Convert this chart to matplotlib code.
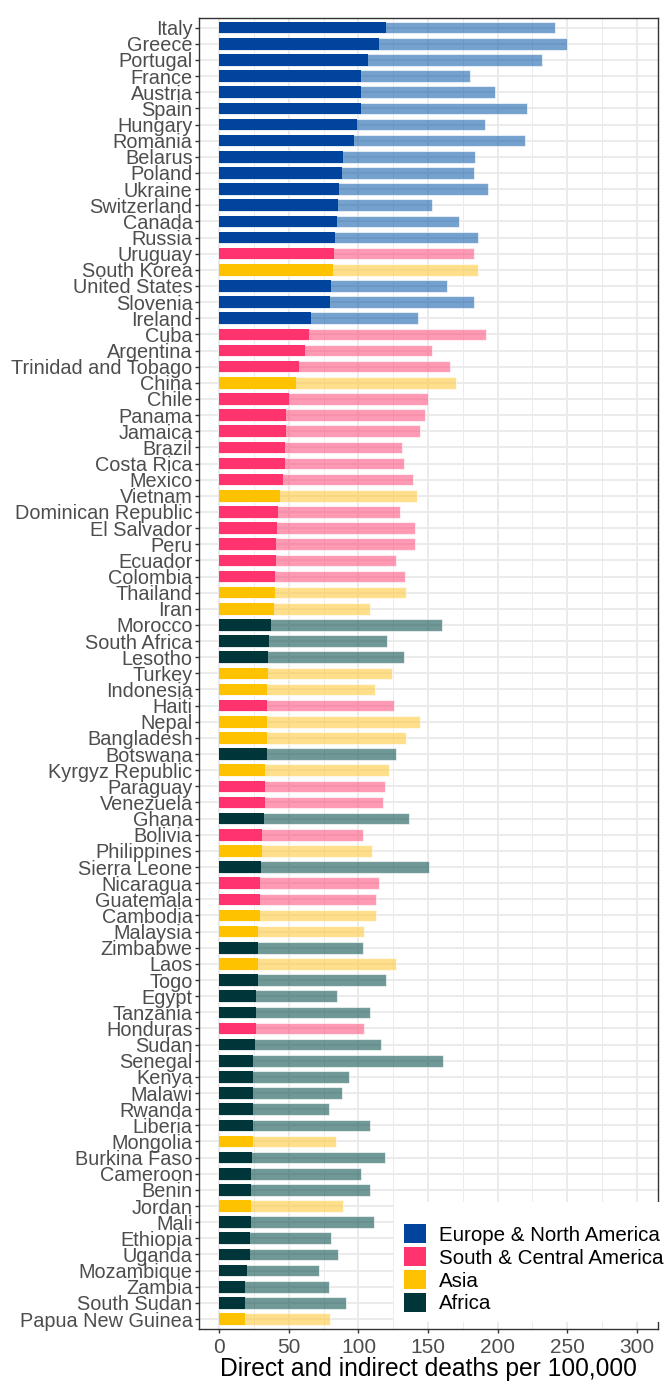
import matplotlib
matplotlib.use("Agg")
import matplotlib.pyplot as plt
from matplotlib.patches import Patch, Rectangle
from matplotlib.ticker import MultipleLocator
import numpy as np

plt.rcParams['font.family'] = ['Liberation Sans', 'DejaVu Sans']

countries = [
    "Italy", "Greece", "Portugal", "France", "Austria", "Spain", "Hungary", "Romania",
    "Belarus", "Poland", "Ukraine", "Switzerland", "Canada", "Russia", "Uruguay",
    "South Korea", "United States", "Slovenia", "Ireland", "Cuba", "Argentina",
    "Trinidad and Tobago", "China", "Chile", "Panama", "Jamaica", "Brazil", "Costa Rica",
    "Mexico", "Vietnam", "Dominican Republic", "El Salvador", "Peru", "Ecuador",
    "Colombia", "Thailand", "Iran", "Morocco", "South Africa", "Lesotho", "Turkey",
    "Indonesia", "Haiti", "Nepal", "Bangladesh", "Botswana", "Kyrgyz Republic",
    "Paraguay", "Venezuela", "Ghana", "Bolivia", "Philippines", "Sierra Leone",
    "Nicaragua", "Guatemala", "Cambodia", "Malaysia", "Zimbabwe", "Laos", "Togo",
    "Egypt", "Tanzania", "Honduras", "Sudan", "Senegal", "Kenya", "Malawi", "Rwanda",
    "Liberia", "Mongolia", "Burkina Faso", "Cameroon", "Benin", "Jordan", "Mali",
    "Ethiopia", "Uganda", "Mozambique", "Zambia", "South Sudan", "Papua New Guinea",
]

EU, SA, AS, AF = "Europe & North America", "South & Central America", "Asia", "Africa"
regions = [
    EU, EU, EU, EU, EU, EU, EU, EU,
    EU, EU, EU, EU, EU, EU, SA,
    AS, EU, EU, EU, SA, SA,
    SA, AS, SA, SA, SA, SA, SA,
    SA, AS, SA, SA, SA, SA,
    SA, AS, AS, AF, AF, AF, AS,
    AS, SA, AS, AS, AF, AS,
    SA, SA, AF, SA, AS, AF,
    SA, SA, AS, AS, AF, AS, AF,
    AF, AF, SA, AF, AF, AF, AF, AF,
    AF, AS, AF, AF, AF, AS, AF,
    AF, AF, AF, AF, AF, AS,
]

direct_deaths = [
    120, 115, 107, 102, 102, 102, 99, 97,
    89, 88, 86, 85, 84.5, 83, 82.5,
    81.5, 80, 79.5, 66, 64.5, 61.5,
    57.5, 55, 50, 48, 48, 47, 47,
    46, 43.5, 42.5, 41.5, 41, 41,
    40, 40, 39, 37, 36, 35, 35,
    34.5, 34.5, 34.5, 34, 34, 33,
    33, 32.5, 32, 31, 30.5, 30,
    29.5, 29, 29, 28, 28, 27.5, 27.5,
    26.5, 26.5, 26.5, 25.5, 24.5, 24.5, 24.5, 24,
    24, 24, 23.5, 23, 23, 23, 23,
    22, 22, 20, 18.5, 18.5, 18.5,
]

total_deaths = [
    241, 250, 232, 180, 198, 221, 191, 220,
    184, 183, 193, 153, 172, 186, 183,
    186, 164, 183, 143, 192, 153,
    166, 170, 150, 148, 144, 131.5, 133,
    139, 142, 130, 140.5, 140.5, 127,
    133.5, 134.5, 108, 160, 120.5, 133, 124,
    112, 125.5, 144, 134.5, 127, 122,
    119, 118, 136.5, 103.5, 110, 151,
    115, 112.5, 112.5, 104, 103.5, 127, 120,
    84.5, 108.5, 104, 116, 161, 93, 88.5, 78.5,
    108.5, 83.5, 119, 102, 108.5, 89, 111,
    80.5, 85.5, 71.5, 78.5, 91, 79.5,
]

region_order = [EU, SA, AS, AF]
region_colors = {EU: "#00449E", SA: "#FF336E", AS: "#FFC200", AF: "#00363A"}
region_light = {EU: "#1762AD", SA: "#FF5582", AS: "#FFCB3F", AF: "#0F5352"}

x_ticks = [0, 50, 100, 150, 200, 250, 300]
x_label = "Direct and indirect deaths per 100,000"

W, H = 672, 1389
fig = plt.figure(figsize=(W / 100, H / 100), dpi=100)
left, right = 198.5 / W, 657.5 / W
top, bottom = 1 - 18.0 / H, 1 - 1328.7 / H
ax = fig.add_axes([left, bottom, right - left, top - bottom])

n = len(countries)
y = np.arange(n)
cols = [region_colors[r] for r in regions]
light_cols = [region_light[r] for r in regions]

ax.barh(y, total_deaths, height=0.72, color=light_cols, alpha=0.6,
        edgecolor="white", linewidth=0.8, zorder=2)
ax.barh(y, direct_deaths, height=0.72, color=cols, linewidth=0, zorder=3)

ax.set_xlim(-15, 315)
ax.set_ylim(n - 1 + 0.6, -0.6)
ax.set_yticks(y)
ax.set_yticklabels(countries)
ax.set_xticks(x_ticks)
ax.xaxis.set_minor_locator(MultipleLocator(25))

ax.grid(True, which="major", axis="both", color="#EBEBEB", linewidth=1.4, zorder=0)
ax.grid(True, which="minor", axis="x", color="#EBEBEB", linewidth=0.7, zorder=0)
ax.set_axisbelow(True)

ax.tick_params(axis="both", which="major", length=2.75, width=1.0, color="#333333",
               labelcolor="#4D4D4D")
ax.tick_params(axis="y", which="major", labelsize=14.3, pad=1.5)
ax.tick_params(axis="x", which="major", labelsize=15, pad=4)
ax.tick_params(axis="x", which="minor", length=0)
for s in ax.spines.values():
    s.set_color("#333333")
    s.set_linewidth(1.0)

ax.set_xlabel(x_label, fontsize=17.7, color="black", labelpad=0)

# legend background box (covers panel like ggplot inside legend)
fig.add_artist(Rectangle((394 / W, 1 - 1322 / H), (W - 394) / W, 120 / H,
                         transform=fig.transFigure, facecolor="white",
                         edgecolor="none", zorder=4))
handles = [Patch(facecolor=region_colors[r], edgecolor="none") for r in region_order]
fs_pt = 14.8
fs_px = fs_pt * 100 / 72
fig.legend(handles, region_order, loc="upper left",
           bbox_to_anchor=(404 / W, 1 - 1224 / H), bbox_transform=fig.transFigure,
           frameon=False, borderpad=0, borderaxespad=0,
           handlelength=22 / fs_px, handleheight=22 / fs_px,
           handletextpad=13 / fs_px, labelspacing=0.11,
           prop={"size": fs_pt}).set_zorder(5)

fig.savefig("out.png", dpi=100)
